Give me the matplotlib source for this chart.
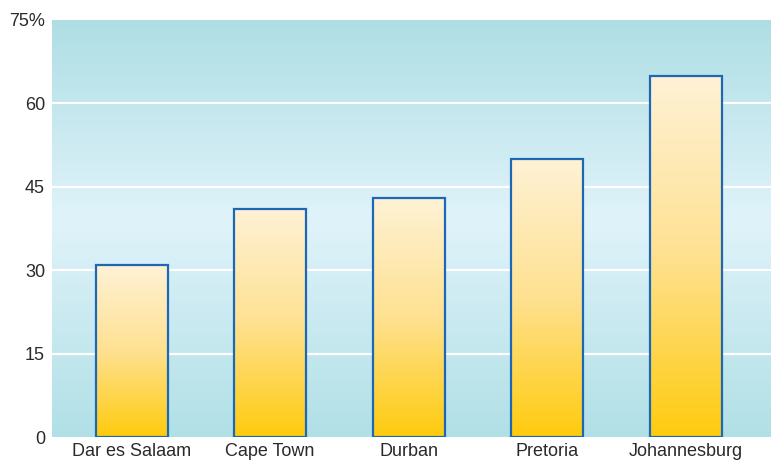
import numpy as np
import matplotlib
matplotlib.use("Agg")
import matplotlib.pyplot as plt
from matplotlib.colors import LinearSegmentedColormap

cities = ["Dar es Salaam", "Cape Town", "Durban", "Pretoria", "Johannesburg"]
shares = [31, 41, 43, 50, 65]
y_ticks = [0, 15, 30, 45, 60, 75]
y_labels = ["0", "15", "30", "45", "60", "75%"]

plt.rcParams["font.family"] = ["Liberation Sans", "DejaVu Sans"]

fig = plt.figure(figsize=(7.71, 4.61), dpi=100)
ax = fig.add_axes([52 / 771, (461 - 437) / 461, (771 - 52) / 771, (437 - 20) / 461])

x = np.arange(len(cities))

# background: teal at the edges, pale blue in the middle
bg_cmap = LinearSegmentedColormap.from_list(
    "bg", [(0.0, "#b0e0e6"), (0.52, "#e0f3fa"), (1.0, "#aedee4")])
bg = np.linspace(0, 1, 256).reshape(-1, 1)
ax.imshow(bg, cmap=bg_cmap, aspect="auto", extent=[0, 1, 0, 1],
          transform=ax.transAxes, origin="lower", zorder=0)

for yt in y_ticks[1:-1]:
    ax.axhline(yt, color="white", lw=1.6, zorder=1)

bars = ax.bar(x, shares, width=0.52, facecolor="none",
              edgecolor="#1c68b4", linewidth=1.6, zorder=3)

bar_cmap = LinearSegmentedColormap.from_list(
    "bar", [(0.0, "#ffcb0e"), (0.5, "#fee191"), (1.0, "#fff2d6")])
grad = np.linspace(0, 1, 256).reshape(-1, 1)
for b in bars:
    x0, w, h = b.get_x(), b.get_width(), b.get_height()
    im = ax.imshow(grad, cmap=bar_cmap, aspect="auto",
                   extent=[x0, x0 + w, 0, h], origin="lower", zorder=2)
    im.set_clip_path(b)

ax.set_xlim(-0.574, 4.613)
ax.set_ylim(0, 75)
ax.set_xticks(x)
ax.set_xticklabels(cities)
ax.set_yticks(y_ticks)
ax.set_yticklabels(y_labels)
ax.tick_params(length=0, labelsize=13, colors="#2a2a2a", pad=5)
ax.tick_params(axis="x", pad=4)
for s in ax.spines.values():
    s.set_visible(False)

fig.savefig("out.png", dpi=100)
